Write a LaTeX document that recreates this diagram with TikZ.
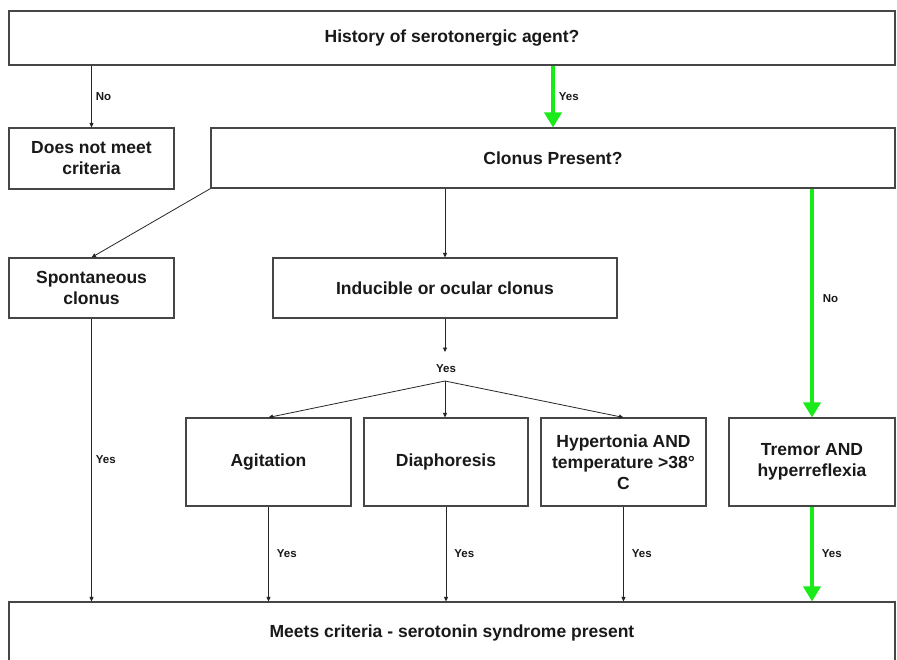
\documentclass[tikz,border=0pt]{standalone}
\usepackage{fontspec}
\setmainfont{Liberation Sans}
\usetikzlibrary{arrows.meta}
\definecolor{boxline}{RGB}{70,70,70}
\definecolor{lime}{RGB}{25,235,25}
\definecolor{txt}{RGB}{25,25,25}
\tikzset{
  box/.style={draw=boxline, line width=1.1pt, fill=white, align=center, inner sep=2pt,
    text=txt, font=\fontsize{17.5}{21}\selectfont\bfseries},
  conn/.style={draw=black!85, line width=0.8pt, -{Triangle[length=4.5pt,width=4pt]}},
  gconn/.style={draw=lime, line width=3.8pt, -{Triangle[length=15pt,width=17pt]}},
  lab/.style={font=\fontsize{11.5}{13}\selectfont\bfseries, text=txt, inner sep=0pt, anchor=west},
}
\begin{document}
\begin{tikzpicture}[x=1pt,y=-1pt]
\useasboundingbox (0,0) rectangle (897,659);
\clip (0,0) rectangle (897,659);
\fill[white] (0,0) rectangle (897,659);
% boxes
\node[box, minimum width=886pt, minimum height=54pt] (top) at (452,38) {History of serotonergic agent?};
\node[box, minimum width=165pt, minimum height=61pt] (dnm) at (91.5,158.5) {Does not meet\\criteria};
\node[box, minimum width=684pt, minimum height=60pt] (clonus) at (553,158) {Clonus Present?};
\node[box, minimum width=165pt, minimum height=60pt] (spont) at (91.5,288) {Spontaneous\\clonus};
\node[box, minimum width=344pt, minimum height=60pt] (ind) at (445,288) {Inducible or ocular clonus};
\node[box, minimum width=165pt, minimum height=88pt] (agit) at (268.5,462) {Agitation};
\node[box, minimum width=164pt, minimum height=88pt] (diaph) at (446,462) {Diaphoresis};
\node[box, minimum width=165pt, minimum height=88pt] (hyper) at (623.5,462) {Hypertonia AND\\temperature >38°\\C};
\node[box, minimum width=166pt, minimum height=88pt] (tremor) at (812,462) {Tremor AND\\hyperreflexia};
\node[box, minimum width=886pt, minimum height=62pt] (bottom) at (452,633) {Meets criteria - serotonin syndrome present};
% branch points
\coordinate (yesin) at (445,352);
\coordinate (br) at (445,381);
\node[font=\fontsize{11.5}{13}\selectfont\bfseries, text=txt, inner sep=0pt] (yesmid) at (446,369) {Yes};
% connectors
\draw[conn] (top.south -| dnm.north) -- node[lab, xshift=4pt] {No} (dnm.north);
\draw[gconn] (top.south -| clonus.north) -- node[lab, xshift=4pt] {Yes} (clonus.north);
\draw[conn] (clonus.south west) -- (spont.north);
\draw[conn] (clonus.south -| ind.north) -- (ind.north);
\draw[gconn] (clonus.south -| tremor.north) -- node[lab, xshift=9pt, pos=0.48] {No} (tremor.north);
\draw[conn] (ind.south) -- (yesin);
\draw[conn] (br) -- (agit.north);
\draw[conn] (br) -- (br |- diaph.north);
\draw[conn] (br) -- (hyper.north);
\draw[conn] (spont.south) -- node[lab, xshift=4pt] {Yes} (bottom.north -| spont.south);
\draw[conn] (agit.south) -- node[lab, xshift=8pt] {Yes} (bottom.north -| agit.south);
\draw[conn] (diaph.south) -- node[lab, xshift=8pt] {Yes} (bottom.north -| diaph.south);
\draw[conn] (hyper.south) -- node[lab, xshift=8pt] {Yes} (bottom.north -| hyper.south);
\draw[gconn] (tremor.south) -- node[lab, xshift=8pt] {Yes} (bottom.north -| tremor.south);
\end{tikzpicture}
\end{document}
